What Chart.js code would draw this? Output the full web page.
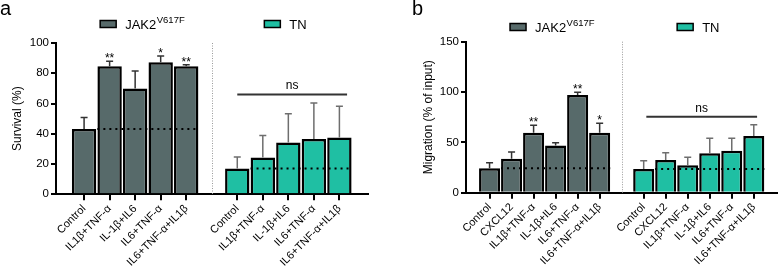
<!DOCTYPE html>
<html>
<head>
<meta charset="utf-8">
<script src="https://cdn.jsdelivr.net/npm/chart.js@4.4.0/dist/chart.umd.min.js"></script>
<style>
  html, body { margin:0; padding:0; background:#fff; }
  body { width:778px; height:271px; position:relative; overflow:hidden; font-family:"Liberation Sans", Arial, Helvetica, sans-serif; }
  .pane { position:absolute; top:0; height:271px; }
  .tag { position:absolute; font-size:20px; line-height:20px; color:#000; }
</style>
</head>
<body>
<div class="pane" style="left:0;width:390px"><canvas id="ca" width="390" height="271"></canvas></div>
<div class="pane" style="left:390px;width:388px"><canvas id="cb" width="388" height="271"></canvas></div>
<div class="tag" style="left:0px;top:-2px">a</div>
<div class="tag" style="left:412px;top:-2px">b</div>
<script>
// ---------- series names ----------
const seriesNames = ['JAK2', 'TN'];
const seriesSup = ['V617F', ''];

// ---------- panel a: Survival (%) ----------
const aCategories = ['Control', 'IL1β+TNF-α', 'IL-1β+IL6', 'IL6+TNF-α', 'IL6+TNF-α+IL1β'];
const aJakMean = [43.2, 84.6, 69.9, 87.3, 84.6];
const aJakErr  = [7.6, 3.3, 11.6, 4.1, 1.1];
const aTnMean  = [17.1, 24.4, 34.3, 36.5, 37.6];
const aTnErr   = [7.5, 14.5, 18.9, 23.9, 20.6];
const aJakSig  = ['', '**', '', '*', '**'];
const aTnSig   = 'ns';
const aNsLevel = 66;
const aYTicks  = [0, 20, 40, 60, 80, 100];

// ---------- panel b: Migration (% of input) ----------
const bCategories = ['Control', 'CXCL12', 'IL1β+TNF-α', 'IL-1β+IL6', 'IL6+TNF-α', 'IL6+TNF-α+IL1β'];
const bJakMean = [24.2, 33.8, 59.6, 47.0, 97.0, 59.6];
const bJakErr  = [5.6, 6.6, 7.4, 2.7, 2.7, 9.3];
const bTnMean  = [23.5, 32.5, 27.2, 39.1, 41.7, 56.3];
const bTnErr   = [8.3, 7.2, 8.0, 14.9, 12.3, 11.2];
const bJakSig  = ['', '', '**', '', '**', '*'];
const bTnSig   = 'ns';
const bNsLevel = 75.5;
const bYTicks  = [0, 50, 100, 150];

// ---------- style ----------
const FONT = '"Liberation Sans", Arial, Helvetica, sans-serif';
const JAK_COLOR = '#576a6a';
const TN_COLOR = '#1fbfa3';
Chart.defaults.font.family = FONT;
Chart.defaults.color = '#000';

const annotPlugin = {
  id: 'annot',
  afterDatasetsDraw(chart, args, o) {
    const {ctx, chartArea} = chart;
    const x = chart.scales.x, y = chart.scales.y;
    ctx.save();
    // vertical dotted separator
    const sx = Math.round(x.getPixelForValue(o.gapPos)) + 0.5;
    ctx.strokeStyle = '#9a9a9a'; ctx.lineWidth = 1; ctx.setLineDash([1, 1.5]);
    ctx.beginPath(); ctx.moveTo(sx, chartArea.top); ctx.lineTo(sx, chartArea.bottom); ctx.stroke();
    ctx.setLineDash([]);
    o.groups.forEach(g => {
      // error bars
      ctx.strokeStyle = g.errColor; ctx.lineWidth = 1.5;
      g.pos.forEach((p, i) => {
        const px = x.getPixelForValue(p);
        const y0 = y.getPixelForValue(g.mean[i]);
        const y1 = y.getPixelForValue(g.mean[i] + g.err[i]);
        ctx.beginPath();
        ctx.moveTo(px, y0); ctx.lineTo(px, y1);
        ctx.moveTo(px - 3.5, y1); ctx.lineTo(px + 3.5, y1);
        ctx.stroke();
      });
      // dotted control reference line
      const ry = y.getPixelForValue(g.mean[0]);
      const rx0 = x.getPixelForValue(g.pos[1] - 0.48);
      const rx1 = x.getPixelForValue(g.pos[g.pos.length - 1] + 0.48);
      ctx.strokeStyle = '#000'; ctx.lineWidth = 2; ctx.setLineDash([2, 4]);
      ctx.beginPath(); ctx.moveTo(rx0, ry); ctx.lineTo(rx1, ry); ctx.stroke();
      ctx.setLineDash([]);
      // significance stars
      ctx.fillStyle = '#000'; ctx.font = '12px ' + FONT; ctx.textAlign = 'center'; ctx.textBaseline = 'alphabetic';
      if (g.sig) g.sig.forEach((s, i) => {
        if (!s) return;
        const px = x.getPixelForValue(g.pos[i]);
        const py = y.getPixelForValue(g.mean[i] + g.err[i]) - 2;
        ctx.fillText(s, px, py + 3);
      });
      // ns bracket
      if (g.ns) {
        const ly = y.getPixelForValue(g.ns.level);
        const lx0 = x.getPixelForValue(g.ns.from), lx1 = x.getPixelForValue(g.ns.to);
        ctx.strokeStyle = '#333'; ctx.lineWidth = 2;
        ctx.beginPath(); ctx.moveTo(lx0, ly); ctx.lineTo(lx1, ly); ctx.stroke();
        ctx.font = '12px ' + FONT;
        ctx.fillText(g.ns.text, (lx0 + lx1) / 2, ly - 5);
      }
    });
    ctx.restore();
  },
  afterDraw(chart, args, o) {
    const {ctx} = chart;
    const x = chart.scales.x;
    ctx.save();
    chart.data.datasets.forEach((ds, k) => {
      const lx = x.getPixelForValue(o.legend[k]);
      const ly = o.legendY;
      ctx.fillStyle = ds.backgroundColor;
      ctx.fillRect(lx, ly - 3.5, 16, 7);
      ctx.strokeStyle = '#000'; ctx.lineWidth = 1.5;
      ctx.strokeRect(lx, ly - 3.5, 16, 7);
      ctx.fillStyle = '#000'; ctx.textAlign = 'left'; ctx.textBaseline = 'alphabetic';
      ctx.font = '13px ' + FONT;
      const tx = lx + 25;
      ctx.fillText(seriesNames[k], tx, ly + 5);
      const w = ctx.measureText(seriesNames[k]).width;
      if (seriesSup[k]) {
        ctx.font = '9.5px ' + FONT;
        ctx.fillText(seriesSup[k], tx + w + 0.5, ly - 1);
      }
    });
    ctx.restore();
  }
};

function makePanel(canvasId, cats, jakMean, jakErr, tnMean, tnErr, jakSig, tnSig, nsLevel, yTicks, yTitle, lay) {
  const n = cats.length;
  const jakPos = cats.map((c, i) => i);
  const tnPos = cats.map((c, i) => i + n + 1);
  const allPos = jakPos.concat(tnPos);
  const labelAt = {};
  jakPos.forEach((p, i) => labelAt[p] = cats[i]);
  tnPos.forEach((p, i) => labelAt[p] = cats[i]);
  const yMax = yTicks[yTicks.length - 1];
  return new Chart(document.getElementById(canvasId), {
    type: 'bar',
    data: {
      datasets: [
        { label: seriesNames[0], data: jakPos.map((p, i) => ({x: p, y: jakMean[i]})),
          backgroundColor: JAK_COLOR, borderColor: '#000', borderWidth: 2.5 },
        { label: seriesNames[1], data: tnPos.map((p, i) => ({x: p, y: tnMean[i]})),
          backgroundColor: TN_COLOR, borderColor: '#000', borderWidth: 2.5 }
      ]
    },
    options: {
      responsive: false, animation: false, devicePixelRatio: 1,
      grouped: false, barPercentage: 1, categoryPercentage: 0.955,
      layout: { padding: { top: lay.top, right: lay.right, left: 0, bottom: 0 } },
      plugins: {
        legend: { display: false }, tooltip: { enabled: false },
        annot: {
          gapPos: n, legend: lay.legend, legendY: lay.legendY,
          groups: [
            { pos: jakPos, mean: jakMean, err: jakErr, sig: jakSig, errColor: '#333' },
            { pos: tnPos, mean: tnMean, err: tnErr, sig: null, errColor: '#6e6e6e',
              ns: { level: nsLevel, from: tnPos[0] + lay.nsFrom, to: tnPos[n - 1] + lay.nsTo, text: tnSig } }
          ]
        }
      },
      scales: {
        x: {
          type: 'linear', offset: false, min: -lay.xPadL, max: allPos[allPos.length - 1] + lay.xPadR,
          afterBuildTicks: s => { s.ticks = allPos.map(v => ({ value: v })); },
          afterFit: s => { s.height = lay.xH; s.paddingLeft = 0; s.paddingRight = 0; },
          ticks: { autoSkip: false, minRotation: 45, maxRotation: 45, padding: 2,
                   font: { size: 11 }, color: '#000', callback: v => labelAt[v] || '' },
          grid: { display: true, offset: false, drawOnChartArea: false, drawTicks: true, tickLength: 6, color: '#000', lineWidth: 2 },
          border: { display: true, color: '#000', width: 2 }
        },
        y: {
          min: 0, max: yMax,
          afterBuildTicks: s => { s.ticks = yTicks.map(v => ({ value: v })); },
          afterFit: s => { s.width = lay.yW; s.paddingTop = 0; s.paddingBottom = 0; },
          ticks: { font: { size: 11.5 }, color: '#000', padding: 2 },
          grid: { display: true, drawOnChartArea: false, drawTicks: true, tickLength: 5, color: '#000', lineWidth: 2 },
          border: { display: true, color: '#000', width: 2 },
          title: { display: true, text: yTitle, font: { size: 12 }, color: '#000', padding: { top: lay.titlePad, bottom: 0 } }
        }
      }
    },
    plugins: [annotPlugin]
  });
}

makePanel('ca', aCategories, aJakMean, aJakErr, aTnMean, aTnErr, aJakSig, aTnSig, aNsLevel, aYTicks, 'Survival (%)',
  { top: 43, right: 22, yW: 56, xH: 76.7, xPadL: 1.1, xPadR: 1.12, titlePad: 10,
    legend: [0.63, 7.06], legendY: 24, nsFrom: 0, nsTo: 0.3 });
makePanel('cb', bCategories, bJakMean, bJakErr, bTnMean, bTnErr, bJakSig, bTnSig, bNsLevel, bYTicks, 'Migration (% of input)',
  { top: 41.7, right: 0, yW: 76, xH: 78.3, xPadL: 1.07, xPadR: 1.1, titlePad: 31,
    legend: [0.93, 8.52], legendY: 27, nsFrom: 0.12, nsTo: 0.15 });
</script>
</body>
</html>
